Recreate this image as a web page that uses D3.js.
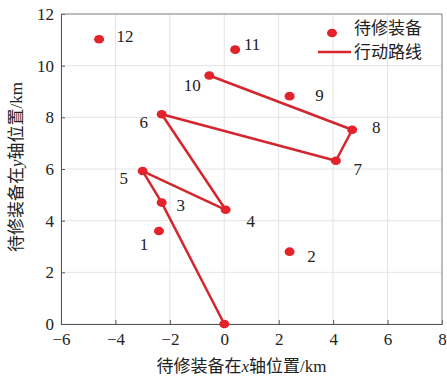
<!DOCTYPE html>
<html><head><meta charset="utf-8">
<script src="https://cdn.jsdelivr.net/npm/d3@7"></script>
<style>body{margin:0;background:#fff}svg{display:block}
.serif{font-family:"Liberation Serif","Times New Roman","DejaVu Serif","Noto Sans CJK SC",serif}</style>
</head><body>
<script>
const pointIds = ["0","1","2","3","4","5","6","7","8","9","10","11","12"];
const pointX = [0, -2.4, 2.4, -2.3, 0.05, -3.0, -2.3, 4.1, 4.7, 2.4, -0.55, 0.4, -4.6];
const pointY = [0, 3.6, 2.8, 4.7, 4.42, 5.92, 8.12, 6.32, 7.52, 8.82, 9.62, 10.62, 11.02];
const routeOrder = ["0","3","5","4","6","7","8","10"];
const xTicks = [-6,-4,-2,0,2,4,6,8];
const yTicks = [0,2,4,6,8,10,12];
const legendLabels = ["待修装备","行动路线"];
const xTitle = "待修装备在x轴位置/km";
const yTitle = "待修装备在y轴位置/km";
// label offsets in pixels (style)
const labelOffsets = {"1":[-15,15],"2":[22,6],"3":[19,5],"4":[25,13],"5":[-19,9],"6":[-18,10],"7":[22,10],"8":[24,-1],"9":[30,1],"10":[-17,12],"11":[17,-4],"12":[26,-1]};

const W=447,H=383, L=61,R=442,T=14,B=324;
const svg=d3.select("body").append("svg").attr("width",W).attr("height",H);
const x=d3.scaleLinear().domain([-6,8]).range([L,R]);
const y=d3.scaleLinear().domain([0,12]).range([B,T]);
const red="#e3222b", lineRed="#d3262e";

// grid
svg.append("g").selectAll("line").data(xTicks).join("line")
 .attr("x1",d=>x(d)).attr("x2",d=>x(d)).attr("y1",T).attr("y2",B)
 .attr("stroke","#e4e4e4").attr("stroke-width",1);
svg.append("g").selectAll("line").data(yTicks).join("line")
 .attr("y1",d=>y(d)).attr("y2",d=>y(d)).attr("x1",L).attr("x2",R)
 .attr("stroke","#e4e4e4").attr("stroke-width",1);

// axes
const fmt=d=>d<0?"\u2212"+Math.abs(d):String(d);
const xa=svg.append("g").attr("transform",`translate(0,${B})`)
 .call(d3.axisBottom(x).tickValues(xTicks).tickFormat(fmt).tickSize(-4).tickPadding(9));
const ya=svg.append("g").attr("transform",`translate(${L},0)`)
 .call(d3.axisLeft(y).tickValues(yTicks).tickFormat(fmt).tickSize(-4).tickPadding(7));
[xa,ya].forEach(g=>{
 g.attr("font-family",null);
 g.select(".domain").attr("stroke","#555");
 g.selectAll(".tick line").attr("stroke","#555");
 g.selectAll("text").attr("class","serif").attr("font-size",17).attr("fill","#222");
});
// frame top/right
svg.append("line").attr("x1",L).attr("x2",R).attr("y1",T).attr("y2",T).attr("stroke","#888");
svg.append("line").attr("x1",R).attr("x2",R).attr("y1",T).attr("y2",B).attr("stroke","#888");

// route
const idx=id=>pointIds.indexOf(id);
svg.append("path").datum(routeOrder)
 .attr("d",d3.line().x(id=>x(pointX[idx(id)])).y(id=>y(pointY[idx(id)])))
 .attr("fill","none").attr("stroke",lineRed).attr("stroke-width",2.5).attr("stroke-linejoin","round");

// points
svg.append("g").selectAll("ellipse").data(pointIds).join("ellipse")
 .attr("cx",(d,i)=>x(pointX[i])).attr("cy",(d,i)=>y(pointY[i]))
 .attr("rx",5).attr("ry",4.3).attr("fill",red);

// labels
svg.append("g").selectAll("text").data(pointIds.filter(d=>labelOffsets[d])).join("text")
 .attr("class","serif")
 .attr("x",d=>x(pointX[idx(d)])+labelOffsets[d][0])
 .attr("y",d=>y(pointY[idx(d)])+labelOffsets[d][1])
 .attr("text-anchor","middle").attr("dominant-baseline","middle")
 .attr("font-size",17).attr("fill","#222").text(d=>d);

// legend
svg.append("ellipse").attr("cx",332).attr("cy",33).attr("rx",5).attr("ry",4.3).attr("fill",red);
svg.append("line").attr("x1",318).attr("x2",351).attr("y1",52).attr("y2",52).attr("stroke",lineRed).attr("stroke-width",2.5);
svg.selectAll(".lg").data(legendLabels).join("text").attr("class","lg serif")
 .attr("x",354).attr("y",(d,i)=>30+i*24).attr("dominant-baseline","middle")
 .attr("font-size",17).attr("fill","#222").text(d=>d);

// axis titles
function title(sel,t){
 const parts=t.split(/([xy])/);
 parts.forEach(p=>{ if(!p) return;
   const ts=sel.append("tspan").text(p);
   if(p==="x"||p==="y") ts.attr("font-style","italic");
 });
}
const xt=svg.append("text").attr("class","serif").attr("x",(L+R)/2-10).attr("y",372).attr("text-anchor","middle")
 .attr("font-size",17).attr("fill","#222");
title(xt,xTitle);
const yt=svg.append("text").attr("class","serif").attr("transform",`translate(22,${(T+B)/2-2}) rotate(-90)`).attr("text-anchor","middle")
 .attr("font-size",17).attr("fill","#222");
title(yt,yTitle);
</script>
</body></html>
